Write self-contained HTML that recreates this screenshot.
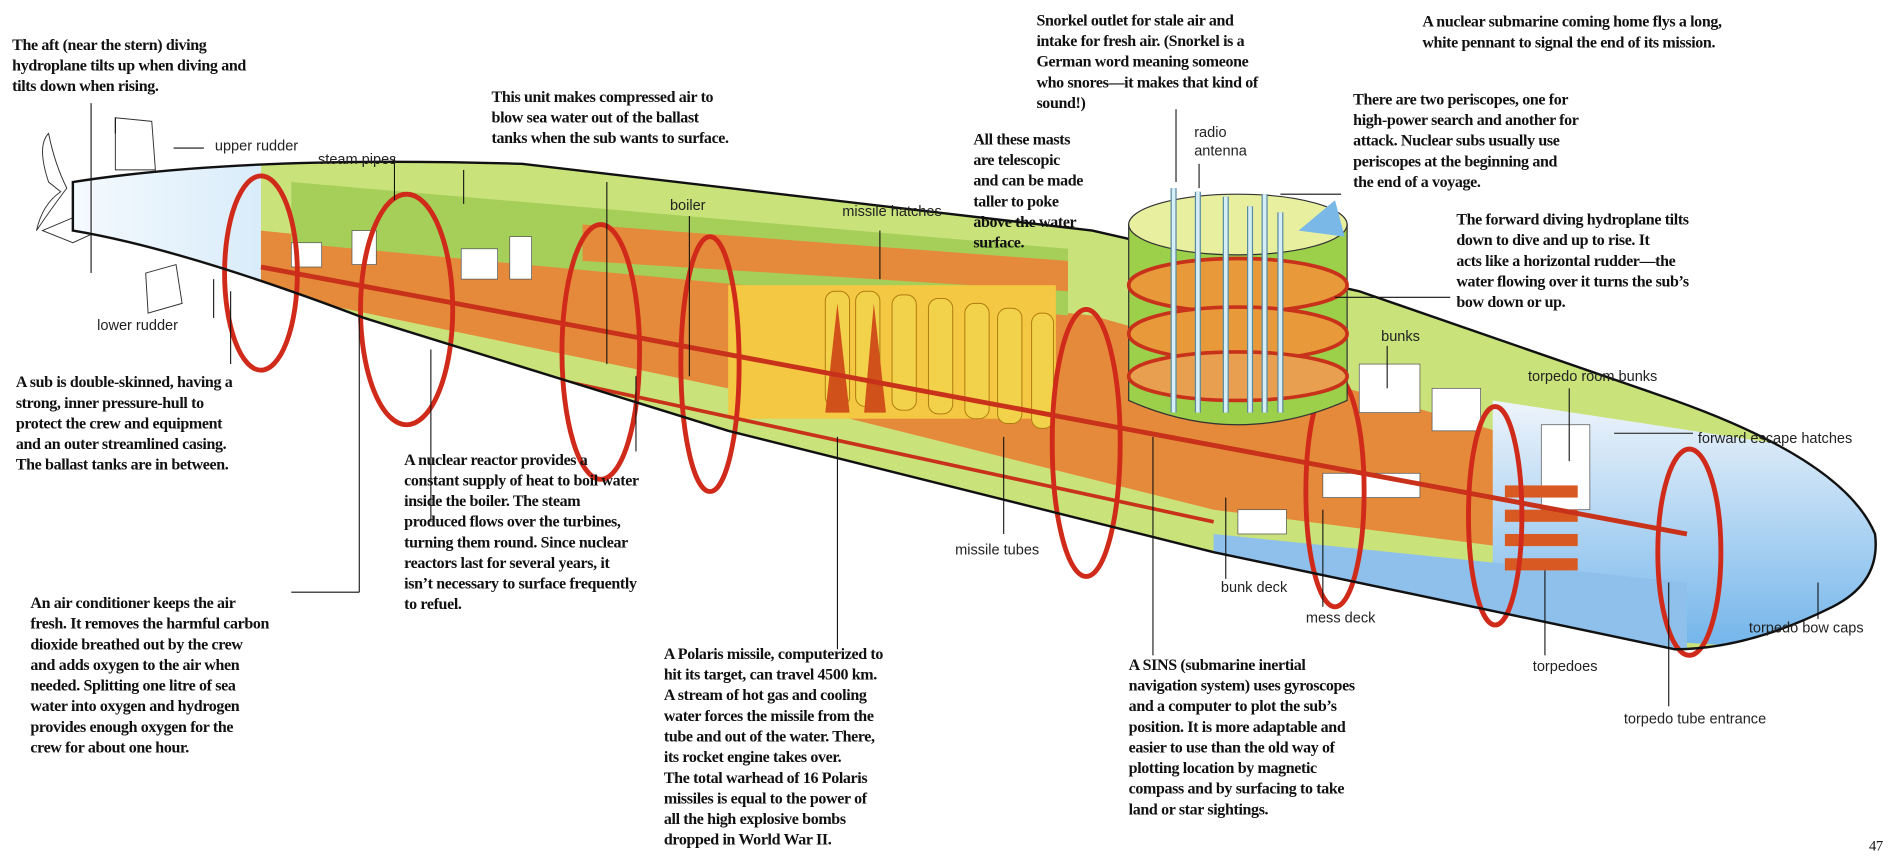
<!DOCTYPE html>
<html><head><meta charset="utf-8">
<style>
html,body{margin:0;padding:0;background:#fff;}
svg{display:block;}
.t{font-family:"Liberation Serif",serif;font-weight:bold;font-size:13.2px;letter-spacing:-0.3px;fill:#111;}
.l{font-family:"Liberation Sans",sans-serif;font-size:12px;fill:#222;}
.ln{stroke:#111;stroke-width:0.9;fill:none;}
</style></head><body>
<svg width="1903" height="858" viewBox="0 0 1568 707" xmlns="http://www.w3.org/2000/svg">
<defs>
<clipPath id="hull"><path d="M60 150 Q200 128 430 135 L900 190 L1120 240 L1380 330 Q1520 380 1545 440 Q1550 480 1510 500 Q1440 535 1380 535 L1000 455 L600 355 L300 262 Q150 205 60 190 Z"/></clipPath>
<linearGradient id="bow" x1="0" y1="0" x2="0" y2="1"><stop offset="0" stop-color="#eef4fb"/><stop offset="1" stop-color="#6fb3ea"/></linearGradient>
<linearGradient id="stern" x1="0" y1="0" x2="1" y2="0"><stop offset="0" stop-color="#ffffff"/><stop offset="1" stop-color="#d9ecfa"/></linearGradient>
</defs>
<path d="M95 97 L125 100 L128 140 L95 140 Z" fill="#fff" stroke="#333" stroke-width="0.8"/>
<path d="M35 190 L68 176 L95 184 L60 200 Z" fill="#fff" stroke="#333" stroke-width="0.8"/>
<path d="M120 225 L145 218 L150 250 L122 258 Z" fill="#fff" stroke="#333" stroke-width="0.8"/>
<path d="M40 150 Q30 120 40 110 Q45 135 55 155 Q40 175 30 190 Q35 168 50 158 Z" fill="#fff" stroke="#333" stroke-width="0.8"/>
<path d="M60 150 Q200 128 430 135 L900 190 L1120 240 L1380 330 Q1520 380 1545 440 Q1550 480 1510 500 Q1440 535 1380 535 L1000 455 L600 355 L300 262 Q150 205 60 190 Z" fill="#c9e27a"/>
<g clip-path="url(#hull)">
<rect x="0" y="100" width="215" height="200" fill="url(#stern)"/>
<polygon points="215,190 900,260 1390,400 1390,470 1000,420 600,320 215,240" fill="#e58a3a"/>
<polygon points="240,150 880,205 880,260 240,200" fill="#a6cf5a"/>
<polygon points="480,185 880,215 880,240 480,215" fill="#e58a3a"/>
<rect x="600" y="235" width="270" height="110" fill="#f4c842"/>
<g fill="#f2d24a" stroke="#b07a10" stroke-width="0.8">
<rect x="680" y="240" width="20" height="95" rx="8"/><rect x="705" y="240" width="20" height="95" rx="8"/><rect x="735" y="243" width="20" height="95" rx="8"/><rect x="765" y="246" width="20" height="95" rx="8"/><rect x="795" y="250" width="20" height="95" rx="8"/><rect x="822" y="254" width="20" height="95" rx="8"/><rect x="850" y="258" width="18" height="95" rx="8"/>
</g>
<path d="M690 250 L680 340 L700 340 Z M720 250 L712 340 L730 340 Z" fill="#d0521a"/>
<polygon points="1230,330 1560,380 1560,540 1230,520" fill="url(#bow)"/>
<polygon points="1000,440 1390,480 1390,540 1000,470" fill="#8fc0ec"/>
<g fill="#fff" stroke="#555" stroke-width="0.6">
<rect x="240" y="200" width="25" height="20"/><rect x="290" y="190" width="20" height="28"/><rect x="380" y="205" width="30" height="25"/><rect x="420" y="195" width="18" height="35"/><rect x="1120" y="300" width="50" height="40"/><rect x="1180" y="320" width="40" height="35"/><rect x="1020" y="420" width="40" height="20"/><rect x="1090" y="390" width="80" height="20"/><rect x="1270" y="350" width="40" height="70"/>
</g>
<g fill="#d85a22"><rect x="1240" y="400" width="60" height="10"/><rect x="1240" y="420" width="60" height="10"/><rect x="1240" y="440" width="60" height="10"/><rect x="1240" y="460" width="60" height="10"/></g>
<line x1="215" y1="220" x2="1390" y2="440" stroke="#c8321a" stroke-width="4"/>
<line x1="215" y1="260" x2="1000" y2="430" stroke="#c8321a" stroke-width="3"/>
</g>
<g fill="none" stroke="#d02a1a" stroke-width="4">
<ellipse cx="215" cy="225" rx="30" ry="80"/>
<ellipse cx="335" cy="255" rx="38" ry="95"/>
<ellipse cx="495" cy="290" rx="32" ry="105"/>
<ellipse cx="585" cy="300" rx="24" ry="105"/>
<ellipse cx="895" cy="365" rx="28" ry="110"/>
<ellipse cx="1100" cy="405" rx="24" ry="95"/>
<ellipse cx="1232" cy="425" rx="22" ry="90"/>
<ellipse cx="1392" cy="455" rx="26" ry="85"/>
</g>
<path d="M60 150 Q200 128 430 135 L900 190 L1120 240 L1380 330 Q1520 380 1545 440 Q1550 480 1510 500 Q1440 535 1380 535 L1000 455 L600 355 L300 262 Q150 205 60 190 Z" fill="none" stroke="#111" stroke-width="2"/>
<path d="M930 185 L930 330 Q1020 370 1110 330 L1110 185 Z" fill="#9ccf4a" stroke="#333" stroke-width="1"/>
<ellipse cx="1020" cy="185" rx="90" ry="25" fill="#e8f0a0" stroke="#333"/>
<ellipse cx="1020" cy="235" rx="90" ry="22" fill="#e89a3a" stroke="#c8321a" stroke-width="3"/>
<ellipse cx="1020" cy="275" rx="90" ry="22" fill="#e89a3a" stroke="#c8321a" stroke-width="3"/>
<ellipse cx="1020" cy="310" rx="90" ry="20" fill="#e8a050" stroke="#c8321a" stroke-width="3"/>
<g stroke="#5a8aa0" stroke-width="5"><line x1="967" y1="155" x2="967" y2="340"/><line x1="987" y1="158" x2="987" y2="340"/><line x1="1010" y1="162" x2="1010" y2="340"/><line x1="1030" y1="170" x2="1030" y2="340"/><line x1="1042" y1="160" x2="1042" y2="340"/><line x1="1055" y1="175" x2="1055" y2="340"/></g>
<g stroke="#d6eef6" stroke-width="3"><line x1="967" y1="155" x2="967" y2="340"/><line x1="987" y1="158" x2="987" y2="340"/><line x1="1010" y1="162" x2="1010" y2="340"/><line x1="1030" y1="170" x2="1030" y2="340"/><line x1="1042" y1="160" x2="1042" y2="340"/><line x1="1055" y1="175" x2="1055" y2="340"/></g>
<polygon points="1070,190 1100,165 1108,195" fill="#7ab8e8"/>
<g class="ln">
<line x1="75" y1="85" x2="75" y2="225"/><path d="M143 122 L168 122"/><path d="M95 97 L95 110"/>
<line x1="176" y1="230" x2="176" y2="262"/>
<line x1="190" y1="240" x2="190" y2="300"/>
<line x1="296" y1="260" x2="296" y2="488"/><line x1="240" y1="488" x2="296" y2="488"/>
<line x1="325" y1="130" x2="325" y2="165"/><line x1="382" y1="140" x2="382" y2="168"/>
<line x1="355" y1="288" x2="355" y2="430"/>
<line x1="500" y1="150" x2="500" y2="300"/>
<line x1="568" y1="178" x2="568" y2="310"/><line x1="524" y1="310" x2="524" y2="372"/>
<line x1="725" y1="190" x2="725" y2="230"/>
<line x1="690" y1="360" x2="690" y2="535"/>
<line x1="827" y1="360" x2="827" y2="440"/>
<line x1="950" y1="360" x2="950" y2="540"/>
<line x1="969" y1="90" x2="969" y2="150"/><line x1="988" y1="135" x2="988" y2="155"/>
<line x1="1055" y1="160" x2="1105" y2="160"/>
<line x1="1100" y1="245" x2="1195" y2="245"/>
<line x1="1010" y1="410" x2="1010" y2="477"/><line x1="1090" y1="420" x2="1090" y2="500"/>
<line x1="1143" y1="285" x2="1143" y2="320"/>
<line x1="1293" y1="320" x2="1293" y2="380"/>
<line x1="1330" y1="357" x2="1395" y2="357"/>
<line x1="1273" y1="470" x2="1273" y2="540"/>
<line x1="1375" y1="480" x2="1375" y2="582"/>
<line x1="1498" y1="480" x2="1498" y2="510"/>
</g>
<text class="t"><tspan x="10" y="41">The aft (near the stern) diving</tspan><tspan x="10" y="58">hydroplane tilts up when diving and</tspan><tspan x="10" y="75">tilts down when rising.</tspan></text>
<text class="t"><tspan x="405" y="84">This unit makes compressed air to</tspan><tspan x="405" y="101">blow sea water out of the ballast</tspan><tspan x="405" y="118">tanks when the sub wants to surface.</tspan></text>
<text class="t"><tspan x="854" y="21">Snorkel outlet for stale air and</tspan><tspan x="854" y="38">intake for fresh air. (Snorkel is a</tspan><tspan x="854" y="55">German word meaning someone</tspan><tspan x="854" y="72">who snores—it makes that kind of</tspan><tspan x="854" y="89">sound!)</tspan></text>
<text class="t"><tspan x="1172" y="22">A nuclear submarine coming home flys a long,</tspan><tspan x="1172" y="39">white pennant to signal the end of its mission.</tspan></text>
<text class="t"><tspan x="802" y="119">All these masts</tspan><tspan x="802" y="136">are telescopic</tspan><tspan x="802" y="153">and can be made</tspan><tspan x="802" y="170">taller to poke</tspan><tspan x="802" y="187">above the water</tspan><tspan x="802" y="204">surface.</tspan></text>
<text class="t"><tspan x="1115" y="86">There are two periscopes, one for</tspan><tspan x="1115" y="103">high-power search and another for</tspan><tspan x="1115" y="120">attack. Nuclear subs usually use</tspan><tspan x="1115" y="137">periscopes at the beginning and</tspan><tspan x="1115" y="154">the end of a voyage.</tspan></text>
<text class="t"><tspan x="1200" y="185">The forward diving hydroplane tilts</tspan><tspan x="1200" y="202">down to dive and up to rise. It</tspan><tspan x="1200" y="219">acts like a horizontal rudder—the</tspan><tspan x="1200" y="236">water flowing over it turns the sub’s</tspan><tspan x="1200" y="253">bow down or up.</tspan></text>
<text class="t"><tspan x="13" y="319">A sub is double-skinned, having a</tspan><tspan x="13" y="336">strong, inner pressure-hull to</tspan><tspan x="13" y="353">protect the crew and equipment</tspan><tspan x="13" y="370">and an outer streamlined casing.</tspan><tspan x="13" y="387">The ballast tanks are in between.</tspan></text>
<text class="t"><tspan x="333" y="383">A nuclear reactor provides a</tspan><tspan x="333" y="400">constant supply of heat to boil water</tspan><tspan x="333" y="417">inside the boiler. The steam</tspan><tspan x="333" y="434">produced flows over the turbines,</tspan><tspan x="333" y="451">turning them round. Since nuclear</tspan><tspan x="333" y="468">reactors last for several years, it</tspan><tspan x="333" y="485">isn’t necessary to surface frequently</tspan><tspan x="333" y="502">to refuel.</tspan></text>
<text class="t"><tspan x="25" y="501">An air conditioner keeps the air</tspan><tspan x="25" y="518">fresh. It removes the harmful carbon</tspan><tspan x="25" y="535">dioxide breathed out by the crew</tspan><tspan x="25" y="552">and adds oxygen to the air when</tspan><tspan x="25" y="569">needed. Splitting one litre of sea</tspan><tspan x="25" y="586">water into oxygen and hydrogen</tspan><tspan x="25" y="603">provides enough oxygen for the</tspan><tspan x="25" y="620">crew for about one hour.</tspan></text>
<text class="t"><tspan x="547" y="543">A Polaris missile, computerized to</tspan><tspan x="547" y="560">hit its target, can travel 4500 km.</tspan><tspan x="547" y="577">A stream of hot gas and cooling</tspan><tspan x="547" y="594">water forces the missile from the</tspan><tspan x="547" y="611">tube and out of the water. There,</tspan><tspan x="547" y="628">its rocket engine takes over.</tspan><tspan x="547" y="645">The total warhead of 16 Polaris</tspan><tspan x="547" y="662">missiles is equal to the power of</tspan><tspan x="547" y="679">all the high explosive bombs</tspan><tspan x="547" y="696">dropped in World War II.</tspan></text>
<text class="t"><tspan x="930" y="552">A SINS (submarine inertial</tspan><tspan x="930" y="569">navigation system) uses gyroscopes</tspan><tspan x="930" y="586">and a computer to plot the sub’s</tspan><tspan x="930" y="603">position. It is more adaptable and</tspan><tspan x="930" y="620">easier to use than the old way of</tspan><tspan x="930" y="637">plotting location by magnetic</tspan><tspan x="930" y="654">compass and by surfacing to take</tspan><tspan x="930" y="671">land or star sightings.</tspan></text>
<text class="l" x="177" y="124">upper rudder</text>
<text class="l" x="262" y="135">steam pipes</text>
<text class="l" x="80" y="272">lower rudder</text>
<text class="l" x="552" y="173">boiler</text>
<text class="l" x="694" y="178">missile hatches</text>
<text class="l" x="984" y="113">radio</text><text class="l" x="984" y="128">antenna</text>
<text class="l" x="1138" y="281">bunks</text>
<text class="l" x="1259" y="314">torpedo room bunks</text>
<text class="l" x="1399" y="365">forward escape hatches</text>
<text class="l" x="787" y="457">missile tubes</text>
<text class="l" x="1006" y="488">bunk deck</text>
<text class="l" x="1076" y="513">mess deck</text>
<text class="l" x="1441" y="521">torpedo bow caps</text>
<text class="l" x="1263" y="553">torpedoes</text>
<text class="l" x="1338" y="596">torpedo tube entrance</text>
<text class="t" x="1540" y="701" style="font-weight:normal;font-size:12px">47</text>
</svg>
</body></html>
